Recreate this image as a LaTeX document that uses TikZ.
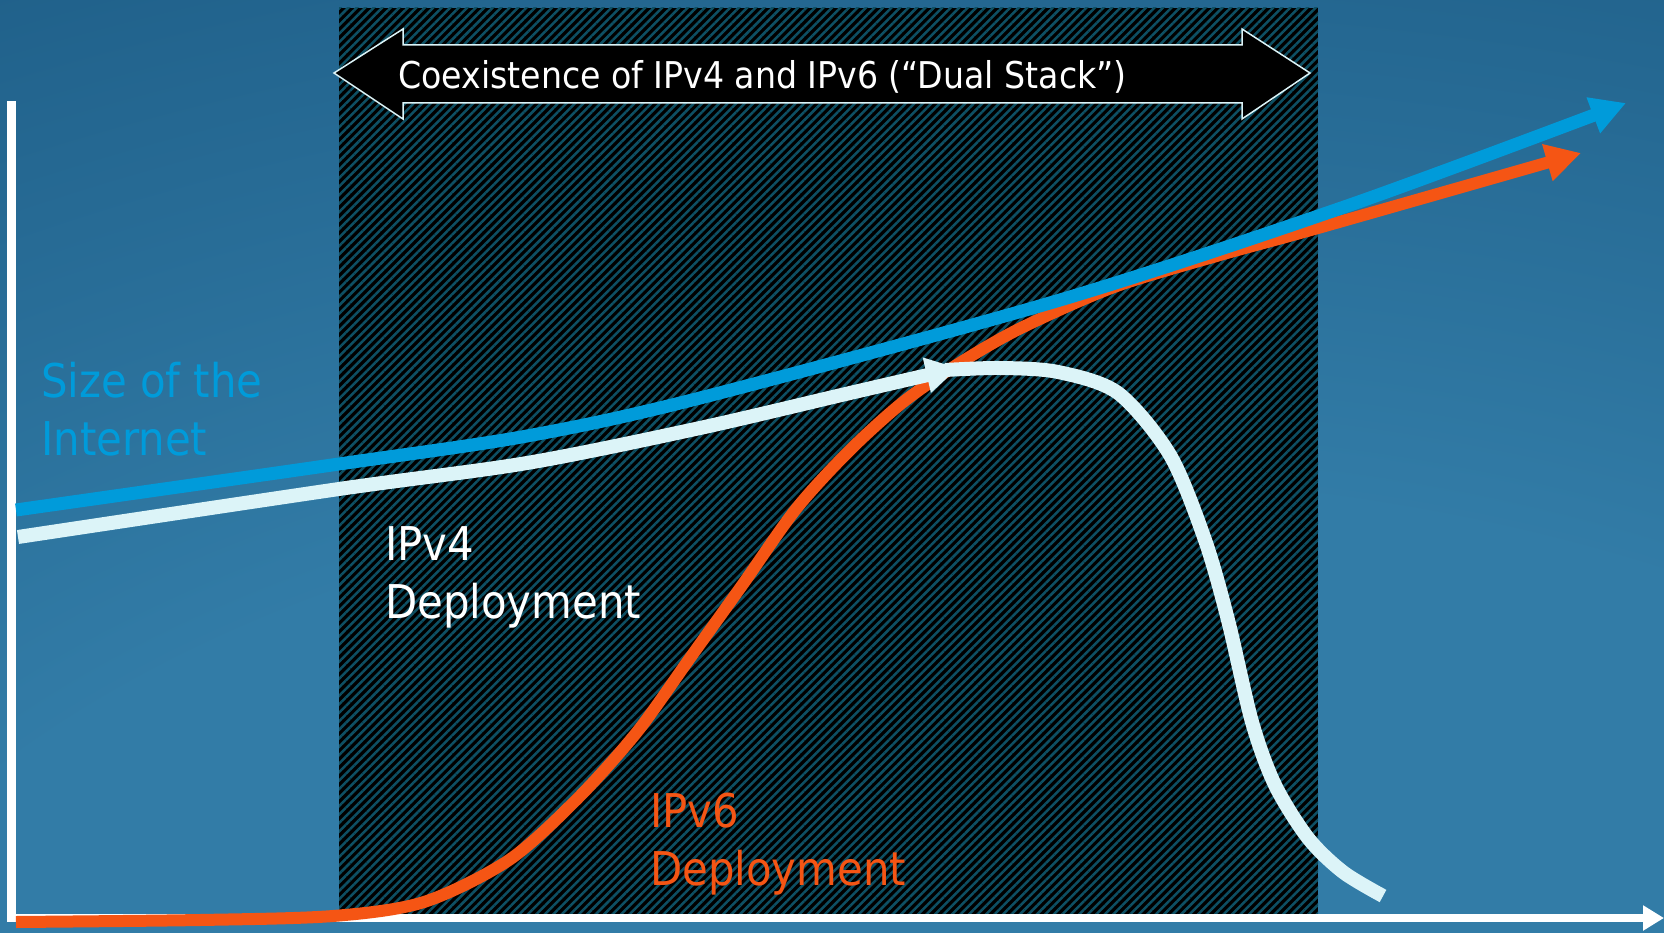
\documentclass[tikz,border=0pt]{standalone}
\usepackage{fontspec}
\setmainfont{DejaVu Sans Condensed}
\usetikzlibrary{arrows.meta,patterns.meta}
\definecolor{bgdark}{RGB}{25,86,127}
\definecolor{bglight}{RGB}{50,124,167}
\definecolor{hatch}{RGB}{14,80,100}
\definecolor{netblue}{RGB}{0,155,218}
\definecolor{ipsix}{RGB}{245,85,20}
\definecolor{ipfour}{RGB}{220,244,248}
\pgfdeclareradialshading{backdrop}{\pgfpoint{7bp}{-46bp}}{color(0bp)=(bglight); color(38bp)=(bglight); color(78bp)=(bgdark); color(250bp)=(bgdark)}

\begin{document}
\begin{tikzpicture}[x=1pt,y=-1pt]
	\tikzstyle{curve}   = [line width=13pt]
	\tikzstyle{caption} = [inner sep=0pt, anchor=base west, align=left, font=\fontsize{46.5}{58}\selectfont]

	\useasboundingbox (0,0) rectangle (1664,933);
	\shade[shading=backdrop] (0,0) rectangle (1664,933);
	\fill[black] (339,8) rectangle (1318,915);
	\fill[pattern={Lines[angle=45,distance=6pt,line width=2.5pt]}, pattern color=hatch] (339,8) rectangle (1318,915);

	\draw[fill=black, draw=ipfour, line width=1.5pt] (334,73) -- (403,29) -- (403,45) -- (1242,45) -- (1242,29) -- (1310,73) -- (1242,119) -- (1242,103) -- (403,103) -- (403,119) -- cycle;
	\node[caption, font=\fontsize{36.9}{44}\selectfont, text=white] (coexist) at (398,89) {Coexistence of IPv4 and IPv6 (“Dual Stack”)};

	\draw[white, line width=8.5pt, -{Triangle[length=21pt,width=24pt]}] (11.5,101) |- (1664,918);

	\draw[curve, line width=12pt, ipsix, -{Triangle[length=35pt,width=36pt]}] plot[smooth] coordinates {(16,922) (200,920) (333,916) (424,902) (509,860) (578,798) (637,732) (690,658) (743,584) (796,509) (849,451) (902,403) (955,366) (1019,329) (1114,287) (1220,255) (1318,228) (1581,153)};
	\draw[curve, netblue, -{Triangle[length=35pt,width=36pt]}] plot[smooth] coordinates {(16,510) (339,464) (527,436) (700,398) (1060,300) (1350,205) (1626,103)};
	\draw[curve, line width=14pt, ipfour, -{Triangle[length=32pt,width=34pt]}] plot[smooth] coordinates {(18,537) (339,489) (527,463) (700,428) (850,393) (958,368)};
	\draw[curve, line width=14pt, ipfour] plot[smooth] coordinates {(945,370) (1000,368) (1058,372) (1118,393) (1170,455) (1205,540) (1228,620) (1252,722) (1275,785) (1308,838) (1343,872) (1383,896)};

	\foreach \name/\x/\y/\col/\first/\second in {size/41/455/netblue/Size of the/Internet, vfour/385/618/white/IPv4/Deployment, vsix/650/885/ipsix/IPv6/Deployment}
		\node[caption, text=\col] (\name) at (\x,\y) {\first\\\second};
\end{tikzpicture}
\end{document}
